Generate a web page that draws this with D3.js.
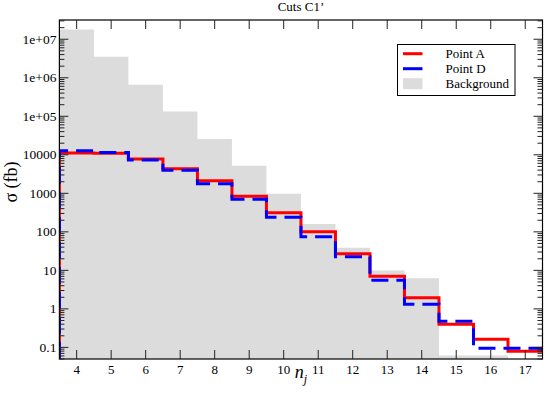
<!DOCTYPE html>
<html>
<head>
<meta charset="utf-8">
<script src="https://cdn.jsdelivr.net/npm/d3@7"></script>
<style>
  html, body { margin: 0; padding: 0; background: #fff; }
  svg { display: block; }
  text { font-family: "Liberation Serif", "Times New Roman", serif; fill: #000; }
</style>
</head>
<body>
<script>
// ---- Data ----
const bins = [4, 5, 6, 7, 8, 9, 10, 11, 12, 13, 14, 15, 16, 17];
const background = [1.8e7, 3.5e6, 6.6e5, 1.33e5, 2.56e4, 5200, 980, 161, 38.5, 9.9, 6.2, 0.062, 0.062, 0];
const pointA = [11100, 11000, 7800, 4370, 2130, 836, 311, 100, 26.9, 7.0, 1.95, 0.40, 0.162, 0.079];
const pointD = [12800, 11500, 7300, 3950, 1780, 700, 239, 75, 22.5, 5.5, 1.31, 0.474, 0.095, 0.095];
const xTicks = [4, 5, 6, 7, 8, 9, 10, 11, 12, 13, 14, 15, 16, 17];
const yTicks = [0.1, 1, 10, 100, 1000, 10000, 1e5, 1e6, 1e7];
const yTickLabels = ["0.1", "1", "10", "100", "1000", "10000", "1e+05", "1e+06", "1e+07"];
const legendLabels = ["Point A", "Point D", "Background"];
const titleText = "Cuts C1\u2019";

// ---- Layout ----
const W = 545, H = 397;
const m = { left: 59.4, right: 2.5, top: 20, bottom: 38 };
const svg = d3.select("body").append("svg").attr("width", W).attr("height", H)
  .style("font-family", "'Liberation Serif', 'Times New Roman', serif");

const x = d3.scaleLinear().domain([3.5, 17.5]).range([m.left, W - m.right]);
const y = d3.scaleLog().domain([0.05, 3.16e7]).range([H - m.bottom, m.top]);
const [x0, x1] = x.range();
const [yB, yT] = y.range();
const yMin = y.domain()[0];

svg.append("defs").append("clipPath").attr("id", "clip")
  .append("rect").attr("x", x0).attr("y", yT).attr("width", x1 - x0).attr("height", yB - yT);

const plot = svg.append("g").attr("clip-path", "url(#clip)");

// Background histogram as one step area
const bgPts = bins.map((b, i) => [b - 0.5, background[i] > 0 ? background[i] : yMin]);
bgPts.push([bins[bins.length - 1] + 0.5, yMin]);
const area = d3.area().x(d => x(d[0])).y0(yB).y1(d => y(d[1])).curve(d3.curveStepAfter);
plot.append("path").attr("d", area(bgPts)).attr("fill", "#dcdcdc");

// Step lines
function stepPoints(vals, dropEnd) {
  const pts = [[3.5, yMin]];
  vals.forEach((v, i) => pts.push([bins[i] - 0.5, v]));
  pts.push([bins[bins.length - 1] + 0.5, vals[vals.length - 1]]);
  if (dropEnd) pts.push([bins[bins.length - 1] + 0.5, yMin]);
  return pts;
}
const line = d3.line().x(d => x(d[0])).y(d => y(d[1])).curve(d3.curveStepAfter);

plot.append("path").attr("d", line(stepPoints(pointA, false)))
  .attr("fill", "none").attr("stroke", "#ff0000").attr("stroke-width", 3);
plot.append("path").attr("d", line(stepPoints(pointD, true)))
  .attr("fill", "none").attr("stroke", "#0000ff").attr("stroke-width", 3)
  .attr("stroke-dasharray", "17,8");

// Frame
svg.append("rect").attr("x", x0).attr("y", yT).attr("width", x1 - x0).attr("height", yB - yT)
  .attr("fill", "none").attr("stroke", "#000").attr("stroke-width", 1.2);

// Ticks
const tickG = svg.append("g").attr("stroke", "#222").attr("stroke-width", 1);
const major = 9, minor = 5;
xTicks.forEach(t => {
  tickG.append("line").attr("x1", x(t)).attr("x2", x(t)).attr("y1", yB).attr("y2", yB - major);
  tickG.append("line").attr("x1", x(t)).attr("x2", x(t)).attr("y1", yT).attr("y2", yT + major);
});
const minorVals = [];
for (let e = -2; e <= 7; e++) for (let k = 2; k <= 9; k++) {
  const v = k * Math.pow(10, e);
  if (v >= y.domain()[0] && v <= y.domain()[1]) minorVals.push(v);
}
yTicks.forEach(t => {
  tickG.append("line").attr("x1", x0).attr("x2", x0 + major).attr("y1", y(t)).attr("y2", y(t));
  tickG.append("line").attr("x1", x1).attr("x2", x1 - major).attr("y1", y(t)).attr("y2", y(t));
});
minorVals.forEach(t => {
  tickG.append("line").attr("x1", x0).attr("x2", x0 + minor).attr("y1", y(t)).attr("y2", y(t));
  tickG.append("line").attr("x1", x1).attr("x2", x1 - minor).attr("y1", y(t)).attr("y2", y(t));
});

// Tick labels
svg.selectAll("text.xt").data(xTicks).enter().append("text")
  .attr("x", d => x(d)).attr("y", yB + 15).attr("text-anchor", "middle")
  .attr("font-size", 13).text(d => d);
svg.selectAll("text.yt").data(yTicks).enter().append("text")
  .attr("x", x0 - 3).attr("y", d => y(d) + 4.5).attr("text-anchor", "end")
  .attr("font-size", 13.5).text((d, i) => yTickLabels[i]);

// Title
svg.append("text").attr("x", (x0 + x1) / 2).attr("y", 11).attr("text-anchor", "middle")
  .attr("font-size", 13).text(titleText);

// Axis labels
const xl = svg.append("text").attr("x", (x0 + x1) / 2).attr("y", 378).attr("text-anchor", "middle")
  .attr("font-size", 18).attr("font-style", "italic");
xl.append("tspan").text("n");
xl.append("tspan").attr("dy", 5).attr("font-size", 12).text("j");

svg.append("text").attr("transform", "translate(17,182) rotate(-90)").attr("text-anchor", "middle")
  .attr("font-size", 18).text("\u03c3 (fb)");

// Legend
const lg = svg.append("g");
lg.append("rect").attr("x", 397.5).attr("y", 44.5).attr("width", 117.5).attr("height", 51)
  .attr("fill", "#fff").attr("stroke", "#000").attr("stroke-width", 1);
const legColors = ["#ff0000", "#0000ff", "#dcdcdc"];
legendLabels.forEach((lab, i) => {
  const cy = 53.7 + i * 15;
  if (i < 2) {
    lg.append("line").attr("x1", 403).attr("x2", 422.5).attr("y1", cy).attr("y2", cy)
      .attr("stroke", legColors[i]).attr("stroke-width", 3);
  } else {
    lg.append("rect").attr("x", 403).attr("y", cy - 5.5).attr("width", 19.5).attr("height", 11)
      .attr("fill", legColors[i]);
  }
  lg.append("text").attr("x", 445.5).attr("y", cy + 4.5).attr("font-size", 13).text(lab);
});
</script>
</body>
</html>
